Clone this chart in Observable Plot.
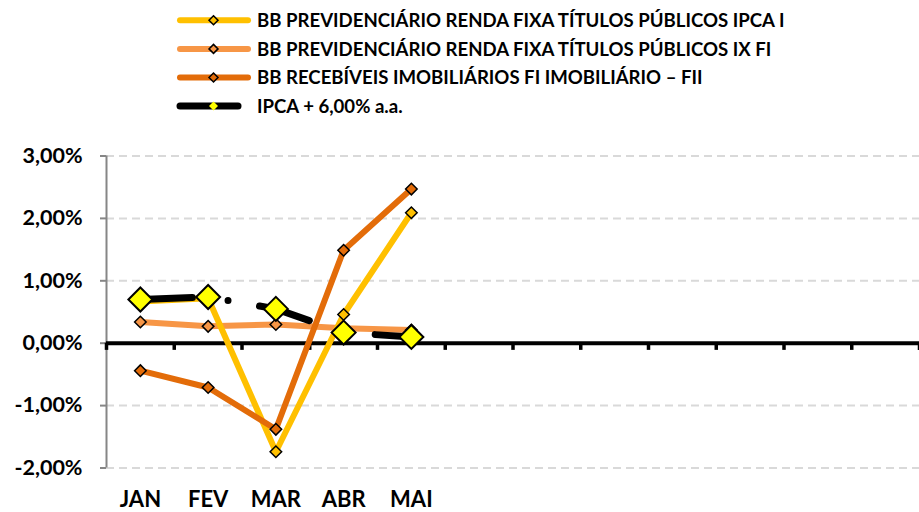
<!DOCTYPE html>
<html><head><meta charset="utf-8">
<script src="https://cdn.jsdelivr.net/npm/d3@7"></script>
<script src="https://cdn.jsdelivr.net/npm/@observablehq/plot@0.6"></script>
<style>
body{margin:0;background:#fff;font-family:Lato, sans-serif;}
#legend{position:absolute;left:0;top:0;width:919px;height:130px;}
#chart{position:absolute;left:0;top:130px;}
</style></head><body>
<div id="legend"></div><div id="chart"></div>
<script>
// ---- data ----
const months = ["JAN", "FEV", "MAR", "ABR", "MAI"];
const slots = 12; // category slots on the axis (Jan..Dez)
const seriesNames = [
  "BB PREVIDENCIÁRIO RENDA FIXA TÍTULOS PÚBLICOS IPCA I",
  "BB PREVIDENCIÁRIO RENDA FIXA TÍTULOS PÚBLICOS IX FI",
  "BB RECEBÍVEIS IMOBILIÁRIOS FI IMOBILIÁRIO – FII",
  "IPCA + 6,00% a.a."
];
const ipcaI      = [0.67, 0.72, -1.74, 0.46, 2.09];
const ixFi       = [0.34, 0.27, 0.30, 0.24, 0.21];
const recebiveis = [-0.44, -0.71, -1.38, 1.49, 2.47];
const meta       = [0.70, 0.74, 0.55, 0.17, 0.10];
const yTicks = [-2, -1, 0, 1, 2, 3];

// ---- styles ----
const colors = ["#FFC000", "#F79646", "#E36C09", "#000000"];
const markerFill = ["#FFC000", "#F79646", "#E36C09", "#FFFF00"];

const rows = (vals, s) => vals.map((v, i) => ({s, i, v}));
const dIpcaI = rows(ipcaI, 0), dIx = rows(ixFi, 1), dRec = rows(recebiveis, 2), dMeta = rows(meta, 3);
const fmt = d => d.toFixed(2).replace(".", ",") + "%";
const boundaries = d3.range(slots + 1).map(k => k - 0.5);

// ---- legend ----
const lg = d3.select("#legend").append("svg").attr("width", 919).attr("height", 130);
seriesNames.forEach((name, k) => {
  const cy = 20.3 + k * 28.6;
  const g = lg.append("g");
  g.append("line").attr("x1", 180).attr("x2", k === 3 ? 238 : 248).attr("y1", cy).attr("y2", cy)
    .attr("stroke", colors[k]).attr("stroke-width", k === 3 ? 7 : 6).attr("stroke-linecap", "round");
  const r = 4.5;
  g.append("path").attr("d", `M${213.5},${cy - r}L${213.5 + r},${cy}L${213.5},${cy + r}L${213.5 - r},${cy}Z`)
    .attr("fill", markerFill[k]).attr("stroke", k === 3 ? "none" : "#000").attr("stroke-width", 1.5);
  g.append("text").attr("x", 257).attr("y", cy + 6.9).attr("font-family", "Lato").attr("font-weight", 700)
    .attr("font-size", 18.6).attr("fill", "#000").text(name);
});

// ---- chart ----
const chart = Plot.plot({
  width: 919, height: 382,
  marginTop: 25.5, marginBottom: 44.5, marginLeft: 106, marginRight: 0,
  style: {fontFamily: "Lato", background: "#fff"},
  x: {type: "linear", domain: [-0.5, slots - 0.5], axis: null},
  y: {domain: [-2, 3], axis: null},
  marks: [
    Plot.ruleY(yTicks.filter(d => d !== 0), {stroke: "#D9D9D9", strokeWidth: 2, strokeDasharray: "8,5"}),
    Plot.ruleX([-0.5], {y1: -2, y2: 3, stroke: "#868686", strokeWidth: 2}),
    Plot.axisY({ticks: yTicks, tickFormat: fmt, tickSize: 6, tickPadding: 18, stroke: "#868686", strokeWidth: 2,
      fill: "#000", fontSize: 21.5, fontWeight: "bold", label: null}),
    Plot.axisX({ticks: months.map((_, i) => i), tickFormat: i => months[i], tickSize: 0, tickPadding: 23,
      fill: "#000", fontSize: 22, fontWeight: "bold", label: null}),
    Plot.ruleY([0], {stroke: "#000", strokeWidth: 4}),
    Plot.ruleX(boundaries, {y1: 0, y2: -0.115, stroke: "#000", strokeWidth: 3.5}),
    // lines
    Plot.line(dIx, {x: "i", y: "v", stroke: colors[1], strokeWidth: 6, strokeLinejoin: "round"}),
    Plot.line(dIpcaI, {x: "i", y: "v", stroke: colors[0], strokeWidth: 6, strokeLinejoin: "round"}),
    Plot.line(dMeta, {x: "i", y: "v", stroke: colors[3], strokeWidth: 7, strokeLinecap: "round", strokeLinejoin: "round",
      strokeDasharray: "52,36,0,32"}),
    Plot.line(dRec, {x: "i", y: "v", stroke: colors[2], strokeWidth: 6, strokeLinejoin: "round"}),
    // markers
    Plot.dot(dIx, {x: "i", y: "v", symbol: "diamond2", r: 5.2, fill: markerFill[1], stroke: "#000", strokeWidth: 1.5}),
    Plot.dot(dIpcaI, {x: "i", y: "v", symbol: "diamond2", r: 5.2, fill: markerFill[0], stroke: "#000", strokeWidth: 1.5}),
    Plot.dot(dRec, {x: "i", y: "v", symbol: "diamond2", r: 5.2, fill: markerFill[2], stroke: "#000", strokeWidth: 1.5}),
    Plot.dot(dMeta, {x: "i", y: "v", symbol: "diamond2", r: 10.8, fill: markerFill[3], stroke: "#000", strokeWidth: 2})
  ]
});
document.getElementById("chart").appendChild(chart);
</script></body></html>
